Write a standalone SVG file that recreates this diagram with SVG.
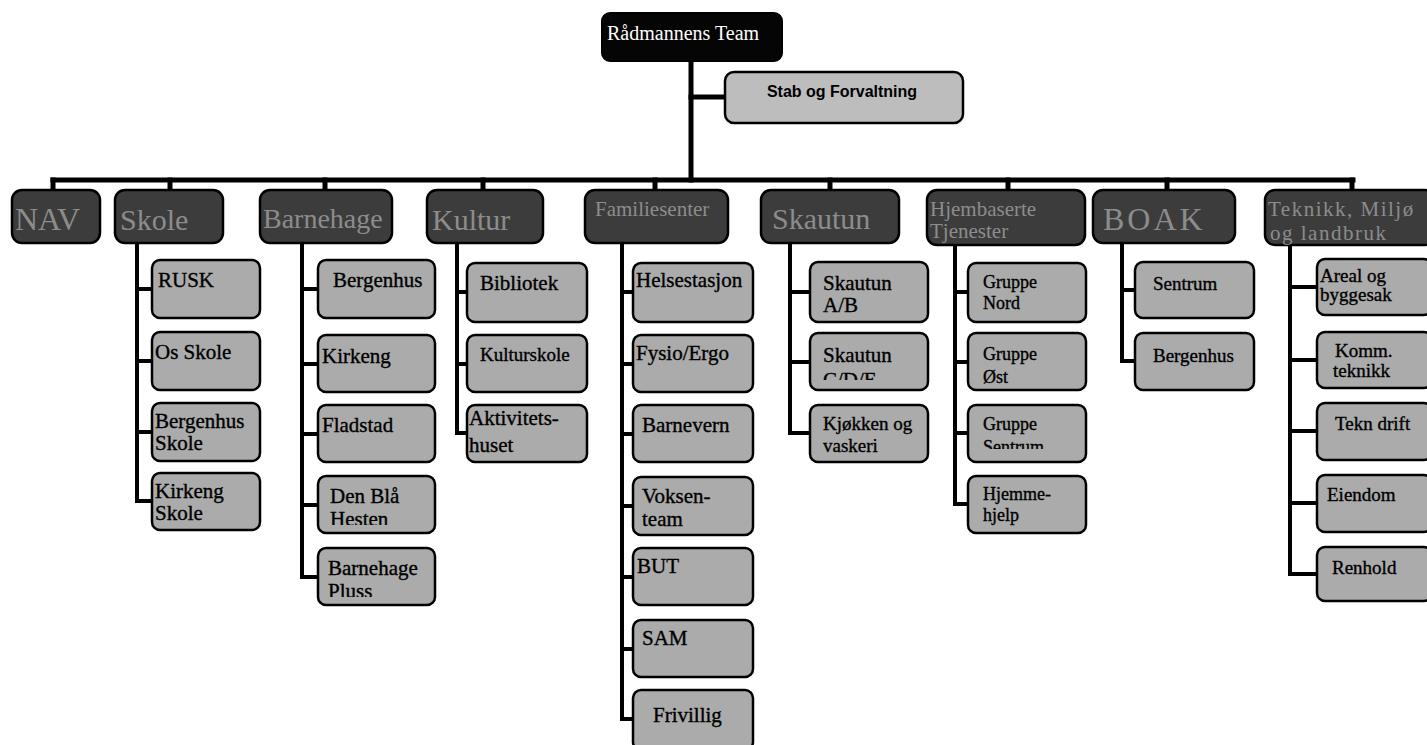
<svg xmlns="http://www.w3.org/2000/svg" width="1427" height="745" viewBox="0 0 1427 745">
<style>
.bg{fill:#ffffff}
.top{fill:#050505;stroke:#000;stroke-width:2}
.toptx{font-family:"Liberation Serif",serif;font-size:20px;fill:#ffffff}
.stab{fill:#bdbdbd;stroke:#000;stroke-width:2.5}
.stabtx{font-family:"Liberation Sans",Arial,sans-serif;font-size:16px;font-weight:bold;fill:#000}
.hdr{fill:#3c3c3c;stroke:#000;stroke-width:2.5}
.hdrtx{font-family:"Liberation Serif",serif;fill:#8c8c8c}
.box{fill:#ababab;stroke:#000;stroke-width:2.5}
.tx{font-family:"Liberation Serif",serif;font-size:21px;fill:#000;stroke:#000;stroke-width:0.35}
.s19{font-size:19px}
.s18{font-size:18px}
.ln{stroke:#000;stroke-width:5;fill:none;stroke-linecap:square}
.ln2{stroke:#000;stroke-width:4;fill:none;stroke-linecap:square}
</style>
<defs>
<clipPath id="cCDE"><rect x="810" y="333" width="118" height="47"/></clipPath>
<clipPath id="cOst"><rect x="968" y="333" width="118" height="52"/></clipPath>
<clipPath id="cSen"><rect x="968" y="405" width="118" height="44"/></clipPath>
<clipPath id="cBla"><rect x="318" y="476" width="117" height="49"/></clipPath>
<clipPath id="cPls"><rect x="318" y="548" width="117" height="49"/></clipPath>
</defs>
<rect class="bg" x="0" y="0" width="1427" height="745"/>

<g id="connectors">
<path class="ln" d="M691 61 V180"/>
<path class="ln" d="M691 97 H725"/>
<path class="ln" d="M53 180 H1353"/>
<path class="ln" d="M53 180 V190 M170 180 V190 M325 180 V190 M483 180 V190 M655 180 V190 M830 180 V190 M1008 180 V190 M1167 180 V190 M1352 180 V190"/>
<path class="ln2" d="M137 243 V501 M137 289 H152 M137 361 H152 M137 432 H152 M137 501 H152"/>
<path class="ln2" d="M302 243 V577 M302 289 H318 M302 364 H318 M302 434 H318 M302 505 H318 M302 577 H318"/>
<path class="ln2" d="M457 243 V433 M457 292 H467 M457 364 H467 M457 433 H467"/>
<path class="ln2" d="M622 243 V719 M622 292 H633 M622 364 H633 M622 434 H633 M622 506 H633 M622 577 H633 M622 649 H633 M622 719 H633"/>
<path class="ln2" d="M790 243 V433 M790 292 H810 M790 362 H810 M790 433 H810"/>
<path class="ln2" d="M955 245 V504 M955 292 H968 M955 362 H968 M955 433 H968 M955 504 H968"/>
<path class="ln2" d="M1122 243 V361 M1122 290 H1135 M1122 361 H1135"/>
<path class="ln2" d="M1290 245 V574 M1290 287 H1317 M1290 360 H1317 M1290 431 H1317 M1290 503 H1317 M1290 574 H1317"/>
</g>

<g id="top">
<rect class="top" x="602" y="13" width="180" height="48" rx="8"/>
<text class="toptx" x="607" y="40">Rådmannens Team</text>
</g>
<g id="stab">
<rect class="stab" x="725" y="72" width="238" height="51" rx="9"/>
<text class="stabtx" x="842" y="97" text-anchor="middle">Stab og Forvaltning</text>
</g>

<g id="h-nav"><rect class="hdr" x="12" y="190" width="88" height="53" rx="10"/><text class="hdrtx" x="15" y="230" font-size="32">NAV</text></g>
<g id="h-skole"><rect class="hdr" x="115" y="190" width="108" height="53" rx="10"/><text class="hdrtx" x="120" y="230" font-size="30">Skole</text></g>
<g id="h-barnehage"><rect class="hdr" x="260" y="190" width="132" height="53" rx="10"/><text class="hdrtx" x="263" y="228" font-size="28">Barnehage</text></g>
<g id="h-kultur"><rect class="hdr" x="427" y="190" width="116" height="53" rx="10"/><text class="hdrtx" x="432" y="230" font-size="30">Kultur</text></g>
<g id="h-familie"><rect class="hdr" x="585" y="190" width="143" height="53" rx="10"/><text class="hdrtx" x="595" y="216" font-size="21">Familiesenter</text></g>
<g id="h-skautun"><rect class="hdr" x="761" y="190" width="138" height="53" rx="10"/><text class="hdrtx" x="772" y="229" font-size="30">Skautun</text></g>
<g id="h-hjem"><rect class="hdr" x="927" y="190" width="158" height="55" rx="10"/><text class="hdrtx" x="930" y="216" font-size="21">Hjembaserte</text><text class="hdrtx" x="930" y="238" font-size="21">Tjenester</text></g>
<g id="h-boak"><rect class="hdr" x="1093" y="190" width="142" height="53" rx="10"/><text class="hdrtx" x="1103" y="230" font-size="32" letter-spacing="3">BOAK</text></g>
<g id="h-teknikk"><rect class="hdr" x="1265" y="190" width="170" height="55" rx="10"/><text class="hdrtx" x="1268" y="216" font-size="21" letter-spacing="1.5">Teknikk, Miljø</text><text class="hdrtx" x="1270" y="240" font-size="21" letter-spacing="1.5">og landbruk</text></g>

<g id="rusk"><rect class="box" x="152" y="260" width="108" height="58" rx="8"/><text class="tx" x="158" y="287">RUSK</text></g>
<g id="os-skole"><rect class="box" x="152" y="332" width="108" height="58" rx="8"/><text class="tx" x="155" y="359">Os Skole</text></g>
<g id="bergenhus-skole"><rect class="box" x="152" y="403" width="108" height="58" rx="8"/><text class="tx" x="155" y="428">Bergenhus</text><text class="tx" x="155" y="450">Skole</text></g>
<g id="kirkeng-skole"><rect class="box" x="152" y="473" width="108" height="57" rx="8"/><text class="tx" x="155" y="498">Kirkeng</text><text class="tx" x="155" y="520">Skole</text></g>

<g id="bh-bergenhus"><rect class="box" x="318" y="260" width="117" height="58" rx="8"/><text class="tx" x="333" y="287">Bergenhus</text></g>
<g id="bh-kirkeng"><rect class="box" x="318" y="335" width="117" height="57" rx="8"/><text class="tx" x="322" y="363">Kirkeng</text></g>
<g id="bh-fladstad"><rect class="box" x="318" y="405" width="117" height="57" rx="8"/><text class="tx" x="322" y="432">Fladstad</text></g>
<g id="bh-denbla"><rect class="box" x="318" y="476" width="117" height="57" rx="8"/><g clip-path="url(#cBla)"><text class="tx" x="330" y="503">Den Blå</text><text class="tx" x="330" y="526">Hesten</text></g></g>
<g id="bh-pluss"><rect class="box" x="318" y="548" width="117" height="57" rx="8"/><g clip-path="url(#cPls)"><text class="tx" x="328" y="575">Barnehage</text><text class="tx" x="328" y="598">Pluss</text></g></g>

<g id="bibliotek"><rect class="box" x="467" y="263" width="120" height="59" rx="8"/><text class="tx" x="480" y="290">Bibliotek</text></g>
<g id="kulturskole"><rect class="box" x="467" y="335" width="120" height="57" rx="8"/><text class="tx s19" x="480" y="361">Kulturskole</text></g>
<g id="aktivitetshuset"><rect class="box" x="467" y="405" width="120" height="57" rx="8"/><text class="tx" x="469" y="425">Aktivitets-</text><text class="tx" x="469" y="452">huset</text></g>

<g id="helsestasjon"><rect class="box" x="633" y="263" width="120" height="59" rx="8"/><text class="tx" x="636" y="287">Helsestasjon</text></g>
<g id="fysio"><rect class="box" x="633" y="335" width="120" height="57" rx="8"/><text class="tx" x="636" y="360">Fysio/Ergo</text></g>
<g id="barnevern"><rect class="box" x="633" y="405" width="120" height="57" rx="8"/><text class="tx" x="642" y="432">Barnevern</text></g>
<g id="voksenteam"><rect class="box" x="633" y="477" width="120" height="58" rx="8"/><text class="tx" x="642" y="503">Voksen-</text><text class="tx" x="642" y="526">team</text></g>
<g id="but"><rect class="box" x="633" y="548" width="120" height="57" rx="8"/><text class="tx" x="637" y="573">BUT</text></g>
<g id="sam"><rect class="box" x="633" y="620" width="120" height="57" rx="8"/><text class="tx" x="642" y="645">SAM</text></g>
<g id="frivillig"><rect class="box" x="633" y="690" width="120" height="60" rx="8"/><text class="tx" x="653" y="722">Frivillig</text></g>

<g id="skautun-ab"><rect class="box" x="810" y="262" width="118" height="60" rx="8"/><text class="tx" x="823" y="290">Skautun</text><text class="tx" x="823" y="312">A/B</text></g>
<g id="skautun-cde"><rect class="box" x="810" y="333" width="118" height="57" rx="8"/><g clip-path="url(#cCDE)"><text class="tx" x="823" y="362">Skautun</text><text class="tx" x="823" y="387">C/D/E</text></g></g>
<g id="kjokken"><rect class="box" x="810" y="405" width="118" height="57" rx="8"/><text class="tx s19" x="823" y="430">Kjøkken og</text><text class="tx s19" x="823" y="452">vaskeri</text></g>

<g id="gr-nord"><rect class="box" x="968" y="263" width="118" height="59" rx="8"/><text class="tx s18" x="983" y="288">Gruppe</text><text class="tx s18" x="983" y="309">Nord</text></g>
<g id="gr-ost"><rect class="box" x="968" y="333" width="118" height="57" rx="8"/><g clip-path="url(#cOst)"><text class="tx s18" x="983" y="360">Gruppe</text><text class="tx s18" x="983" y="383">Øst</text></g></g>
<g id="gr-sentrum"><rect class="box" x="968" y="405" width="118" height="57" rx="8"/><g clip-path="url(#cSen)"><text class="tx s18" x="983" y="430">Gruppe</text><text class="tx s18" x="983" y="453">Sentrum</text></g></g>
<g id="hjemmehjelp"><rect class="box" x="968" y="476" width="118" height="57" rx="8"/><text class="tx s18" x="983" y="500">Hjemme-</text><text class="tx s18" x="983" y="521">hjelp</text></g>

<g id="boak-sentrum"><rect class="box" x="1135" y="262" width="119" height="56" rx="8"/><text class="tx s19" x="1153" y="290">Sentrum</text></g>
<g id="boak-bergenhus"><rect class="box" x="1135" y="333" width="119" height="57" rx="8"/><text class="tx s19" x="1153" y="362">Bergenhus</text></g>

<g id="areal"><rect class="box" x="1317" y="259" width="115" height="56" rx="8"/><text class="tx s19" x="1320" y="282">Areal og</text><text class="tx s19" x="1320" y="301">byggesak</text></g>
<g id="komm"><rect class="box" x="1317" y="332" width="115" height="56" rx="8"/><text class="tx s19" x="1335" y="357">Komm.</text><text class="tx s19" x="1333" y="377">teknikk</text></g>
<g id="tekn-drift"><rect class="box" x="1317" y="403" width="115" height="57" rx="8"/><text class="tx s19" x="1335" y="430">Tekn drift</text></g>
<g id="eiendom"><rect class="box" x="1317" y="475" width="115" height="57" rx="8"/><text class="tx s19" x="1327" y="501">Eiendom</text></g>
<g id="renhold"><rect class="box" x="1317" y="547" width="115" height="54" rx="8"/><text class="tx s19" x="1332" y="574">Renhold</text></g>
</svg>
